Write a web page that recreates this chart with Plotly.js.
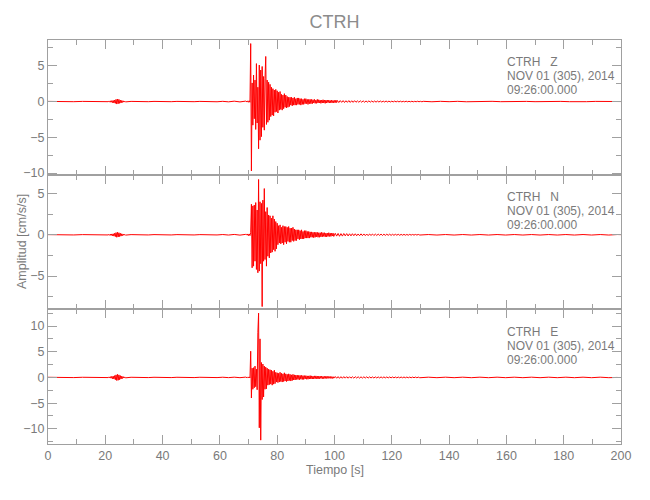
<!DOCTYPE html>
<html>
<head>
<meta charset="utf-8">
<script src="https://cdn.plot.ly/plotly-3.0.1.min.js"></script>
<style>html,body{margin:0;padding:0;background:#fff}#chart{width:650px;height:500px}</style>
</head>
<body>
<div id="chart"></div>
<script>
// Station / header text
const station = "CTRH";
const components = ["Z", "N", "E"];
const dateLine = "NOV 01 (305), 2014";
const timeLine = "09:26:00.000";
const xTitle = "Tiempo [s]";
const yTitle = "Amplitud [cm/s/s]";

// Sample interval (s) of each record segment: quiet, small event, quiet, strong motion, coda, tail
const segDt = [3, 0.25, 2, 0.25, 0.5, 3];

// ---- Z component (cm/s/s) ----
const zPre1 = [0.02,-0.02,0.02,-0.02,0.02,-0.02,0.02,-0.02];
const zBlip = [0.05,-0.08,0.1,-0.1,0.12,-0.15,0.15,-0.2,0.2,-0.25,0.3,-0.35,0.35,-0.3,0.3,-0.25,0.2,-0.2,0.15,-0.12,0.1,-0.08,0.06,-0.05];
const zPre2 = [0.02,-0.02,0.02,-0.02,0.02,-0.02,0.02,-0.02,0.02,-0.02,0.02,-0.02,0.02,-0.02,0.02,-0.03,0.03,-0.04,0.05,-0.05,0.06];
const zMain = [0.05,-0.05,0.1,-0.1,0.1,-0.1,8.1,-9.7,2.6,-3.3,3.7,-2.4,3.0,-3.9,5.3,-3.0,2.0,-6.6,5.1,-5.4,4.4,-4.9,4.9,-3.6,3.5,-4.0,3.2,6.3,
  -3.2,3.0,-2.9,2.7,-2.6,2.4,-2.1,2.0,-1.9,1.8,-2.0,1.6,-1.5,1.7,-1.4,1.5,-1.6,1.3,-1.2,1.4,-1.1,1.0,-1.2,0.9,-1.0,1.1,-0.8,0.9,-0.9,0.7,-0.8,0.6,
  -0.7,0.6,-0.5,0.6,-0.6,0.5,-0.5,0.6,-0.5,0.4,-0.5,0.5,-0.4,0.5,-0.4,0.4,-0.5,0.4,-0.4,0.3,-0.4,0.4,-0.3,0.4,-0.3,0.3,-0.4,0.3,-0.3,0.3,-0.3,0.3,
  -0.3,0.25,-0.2,0.3,-0.25,0.2,-0.25,0.3,-0.2,0.25,-0.2,0.2,-0.25,0.2,-0.2,0.25,-0.2,0.2,-0.25,0.2,-0.2,0.2,-0.15,0.2,-0.2,0.15,-0.2,0.2,-0.15,0.15,-0.2,0.15,-0.15,0.2,-0.15,0.15];
const zCoda = [-0.14,0.13,-0.11,0.13,-0.13,0.11,-0.11,0.13,-0.12,0.11,-0.11,0.12,-0.1,0.09,-0.1,0.1,-0.09,0.1,-0.09,0.08,
  -0.08,0.09,-0.08,0.08,-0.08,0.07,-0.08,0.07,-0.07,0.07,-0.07,0.06,-0.06,0.07,-0.06,0.06,-0.06,0.05,-0.05,0.06,
  -0.05,0.05,-0.05,0.05,-0.05,0.04,-0.04,0.05,-0.04,0.04,-0.04,0.04,-0.04,0.03,-0.03,0.04,-0.03,0.03,-0.03,0.03];
const zTail = [-0.03,0.03,-0.02,0.03,-0.03,0.02,-0.02,0.03,-0.02,0.02,-0.03,0.02,-0.02,0.02,-0.03,0.02,-0.02,0.03,-0.02,0.02,-0.02,0.03,0.0];

// ---- N component ----
const nPre1 = [0.02,-0.02,0.02,-0.02,0.02,-0.02,0.02,-0.02];
const nBlip = [0.04,-0.06,0.08,-0.08,0.1,-0.12,0.12,-0.16,0.18,-0.22,0.26,-0.3,0.3,-0.26,0.25,-0.22,0.18,-0.16,0.12,-0.1,0.08,-0.06,0.05,-0.04];
const nPre2 = [0.02,-0.02,0.02,-0.02,0.02,-0.02,0.02,-0.02,0.02,-0.02,0.02,-0.02,0.02,-0.02,0.02,-0.02,0.03,-0.03,0.04,-0.04,0.05];
const nMain = [0.05,-0.05,0.1,-0.1,0.1,-0.1,0.3,3.7,-4.0,3.5,-3.8,3.6,-3.2,3.9,-4.2,3.0,-4.6,6.7,-4.4,4.0,-3.5,3.8,-8.7,4.2,-3.2,5.6,-3.0,2.8,-3.8,3.3,-2.6,2.4,-2.8,2.3,-2.2,2.0,-2.1,2.3,-1.8,1.9,-2.0,1.6,-1.7,1.4,
  -1.2,1.1,-1.0,1.2,-1.1,0.9,-1.0,1.1,-1.2,1.0,-0.9,1.0,-1.1,0.9,-0.8,1.0,-0.9,0.8,-0.9,0.8,-0.7,0.9,-0.8,0.7,
  -0.7,0.6,-0.7,0.6,-0.5,0.6,-0.6,0.5,-0.5,0.6,-0.5,0.4,-0.5,0.5,-0.4,0.5,-0.4,0.4,-0.4,0.4,
  -0.4,0.35,-0.3,0.35,-0.3,0.3,-0.35,0.3,-0.3,0.3,-0.25,0.3,-0.3,0.25,-0.3,0.25,-0.25,0.3,-0.25,0.25,-0.2,0.25,-0.25,0.2,-0.25,0.2,-0.2,0.25,-0.2,0.2,-0.2,0.2,-0.15,0.2,-0.2];
const nCoda = [0.18,-0.16,0.16,-0.18,0.14,-0.16,0.15,-0.13,0.14,-0.14,0.12,-0.13,0.13,-0.11,0.12,-0.12,0.1,-0.11,0.11,-0.1,
  0.1,-0.1,0.09,-0.1,0.09,-0.08,0.09,-0.09,0.08,-0.08,0.08,-0.07,0.08,-0.08,0.07,-0.07,0.07,-0.06,0.07,-0.07,
  0.06,-0.06,0.06,-0.05,0.06,-0.06,0.05,-0.05,0.05,-0.05,0.04,-0.05,0.05,-0.04,0.04,-0.04,0.04,-0.03,0.04,-0.03];
const nTail = [0.03,-0.03,0.03,-0.03,0.03,-0.03,0.03,-0.03,0.03,-0.03,0.03,-0.03,0.03,-0.03,0.03,-0.03,0.03,-0.03,0.03,-0.03,0.03,-0.03,0.03,0.0];

// ---- E component ----
const ePre1 = [0.03,-0.03,0.03,-0.03,0.03,-0.03,0.03,-0.03];
const eBlip = [0.08,-0.1,0.15,-0.15,0.2,-0.25,0.25,-0.3,0.35,-0.45,0.5,-0.6,0.6,-0.55,0.5,-0.45,0.35,-0.3,0.25,-0.2,0.15,-0.12,0.1,-0.08];
const ePre2 = [0.03,-0.03,0.03,-0.03,0.03,-0.03,0.03,-0.03,0.03,-0.03,0.03,-0.03,0.03,-0.03,0.03,-0.03,0.04,-0.04,0.05,-0.05,0.06];
const eMain = [0.05,-0.05,0.1,-0.1,0.1,-0.1,5.1,-4.0,1.8,-2.3,1.9,-2.0,2.2,-1.8,1.6,-2.4,8.7,12.5,-9.8,7.5,-12.2,2.9,-4.3,2.6,-3.8,2.2,-2.3,2.0,-2.2,1.8,
  -1.5,1.6,-1.4,1.5,-1.3,1.4,-1.5,1.2,-1.3,1.4,-1.2,
  1.0,-0.9,0.9,-1.0,0.8,-0.9,1.0,-0.8,0.8,-0.9,0.7,-0.8,0.9,-0.7,0.7,-0.8,0.6,-0.7,0.7,-0.6,0.6,-0.7,0.5,-0.6,0.6,-0.5,0.5,
  -0.5,0.45,-0.4,0.45,-0.4,0.4,-0.45,0.4,-0.35,0.4,-0.4,0.35,-0.4,0.35,-0.3,0.35,-0.35,0.3,-0.35,0.3,-0.3,0.35,-0.3,0.3,-0.3,0.25,-0.3,0.3,-0.25,0.3,-0.25,0.25,-0.3,0.25,-0.25,0.25,-0.2,0.25,-0.25,0.2,-0.25,0.2,-0.2,0.25,-0.2,0.2,-0.2,0.2,-0.15,0.2,-0.2,0.15,-0.2,0.15,-0.15];
const eCoda = [0.18,-0.16,0.16,-0.18,0.15,-0.16,0.16,-0.14,0.15,-0.15,0.14,-0.14,0.13,-0.14,0.14,-0.12,0.13,-0.13,0.12,-0.12,
  0.12,-0.11,0.12,-0.12,0.11,-0.11,0.1,-0.11,0.1,-0.1,0.1,-0.1,0.1,-0.09,0.1,-0.09,0.09,-0.09,0.09,-0.08,
  0.09,-0.08,0.08,-0.08,0.08,-0.08,0.08,-0.07,0.08,-0.07,0.07,-0.07,0.07,-0.07,0.07,-0.06,0.07,-0.06,0.06,-0.06];
const eTail = [0.05,-0.05,0.05,-0.05,0.05,-0.05,0.05,-0.05,0.05,-0.05,0.05,-0.05,0.05,-0.05,0.05,-0.05,0.05,-0.05,0.05,-0.05,0.05,-0.05,0.0];

// Axis ranges per panel
const yRanges = [[-10.2, 8.6], [-9.0, 7.3], [-12.95, 13.3]];
const xRange = [0, 200];

function buildSeries(segments) {
  const t = [], a = [];
  let time = -segDt[0];
  segments.forEach((seg, k) => {
    seg.forEach(v => { time += segDt[k]; t.push(+time.toFixed(3)); a.push(v); });
  });
  return {t, a};
}

const series = [
  buildSeries([zPre1, zBlip, zPre2, zMain, zCoda, zTail]),
  buildSeries([nPre1, nBlip, nPre2, nMain, nCoda, nTail]),
  buildSeries([ePre1, eBlip, ePre2, eMain, eCoda, eTail])
];

const FONT = "'Liberation Sans', Arial, sans-serif";
const LINE = "#a0a0a0";
const TXT = "#7a7a7a";

const traces = series.map((s, i) => ({
  type: "scatter",
  mode: "lines",
  x: s.t, y: s.a,
  xaxis: i === 0 ? "x" : "x" + (i + 1),
  yaxis: i === 0 ? "y" : "y" + (i + 1),
  line: {color: "rgb(255,0,0)", width: 1},
  hoverinfo: "skip",
  showlegend: false
}));

const domains = [[0.667, 1], [0.334, 0.667], [0, 0.334]];

const layout = {
  width: 650, height: 500,
  margin: {l: 48, r: 29, t: 40, b: 56},
  paper_bgcolor: "#fff", plot_bgcolor: "#fff",
  font: {family: FONT, color: TXT, size: 12},
  title: {text: station, font: {family: FONT, size: 18, color: "#8c8c8c"}, x: 0.5, xref: "paper", xanchor: "center", y: 1 - 22/500, yref: "container", yanchor: "middle"},
  showlegend: false,
  hovermode: false,
  annotations: []
};

const pxTop = 40, plotH = 404;
function paperY(px) { return 1 - (px - pxTop) / plotH; }

for (let i = 0; i < 3; i++) {
  const xa = i === 0 ? "xaxis" : "xaxis" + (i + 1);
  const ya = i === 0 ? "yaxis" : "yaxis" + (i + 1);
  const yid = i === 0 ? "y" : "y" + (i + 1);
  const xid = i === 0 ? "x" : "x" + (i + 1);
  layout[xa] = {
    domain: [0, 1], anchor: yid, range: xRange,
    tick0: 0, dtick: 20, ticks: "inside", ticklen: 9, tickcolor: LINE, tickwidth: 1,
    minor: {dtick: 10, ticks: "inside", ticklen: 5, tickcolor: LINE, showgrid: false},
    showline: true, linecolor: LINE, linewidth: 1, mirror: "ticks",
    showgrid: false, zeroline: false,
    showticklabels: i === 2,
    tickfont: {family: FONT, size: 12.5, color: TXT}
  };
  layout[ya] = {
    domain: domains[i], anchor: xid, range: yRanges[i],
    tick0: 0, dtick: 5, ticks: "inside", ticklen: 9, tickcolor: LINE, tickwidth: 1,
    minor: {dtick: 2.5, ticks: "inside", ticklen: 5, tickcolor: LINE, showgrid: false},
    showline: true, linecolor: LINE, linewidth: 1, mirror: "ticks",
    showgrid: false, zeroline: false,
    tickfont: {family: FONT, size: 12.5, color: TXT}
  };
  const offs = [0, 134.5, 270][i];
  const lines = [station + "   " + components[i], dateLine, timeLine];
  const centers = [62, 76, 90];
  lines.forEach((txt, k) => {
    layout.annotations.push({
      text: txt, xref: "paper", x: (505 - 48) / 573, xanchor: "left",
      yref: "paper", y: paperY(centers[k] + offs), yanchor: "middle",
      showarrow: false, font: {family: FONT, size: 12, color: TXT}
    });
  });
}

layout.annotations.push({
  text: xTitle, xref: "paper", x: 0.5, xanchor: "center",
  yref: "paper", y: paperY(470), yanchor: "middle",
  showarrow: false, font: {family: FONT, size: 12.5, color: TXT}
});
layout.annotations.push({
  text: yTitle, xref: "paper", x: (22 - 48) / 573, xanchor: "center",
  yref: "paper", y: 0.5, yanchor: "middle", textangle: -90,
  showarrow: false, font: {family: FONT, size: 12.5, color: TXT}
});

Plotly.newPlot("chart", traces, layout, {displayModeBar: false, staticPlot: true});
</script>
</body>
</html>
